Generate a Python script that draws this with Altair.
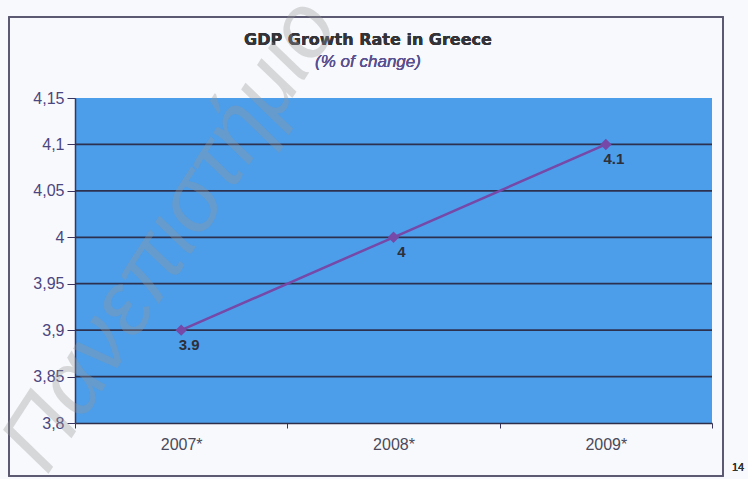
import altair as alt
import pandas as pd

years = ["2007*", "2008*", "2009*"]
growth = [3.9, 4.0, 4.1]
point_labels = ["3.9", "4", "4.1"]
y_ticks = [3.8, 3.85, 3.9, 3.95, 4.0, 4.05, 4.1, 4.15]
grid_values = [3.85, 3.9, 3.95, 4.0, 4.05, 4.1]
title_text = "GDP Growth Rate in Greece"
subtitle_text = "(% of change)"

df = pd.DataFrame({"year": years, "growth": growth, "label": point_labels})
grid_df = pd.DataFrame({"growth": grid_values})

W, H = 637, 325

x_enc = alt.X(
    "year:N",
    sort=years,
    title=None,
    scale=alt.Scale(paddingInner=0, paddingOuter=0),
    axis=alt.Axis(
        labelAngle=0,
        tickBand="extent",
        tickSize=5,
        tickColor="#3a3560",
        domainColor="#2e2f4a",
        domainWidth=1.5,
        labelFont="Liberation Sans Narrow, Liberation Sans",
        labelFontSize=16,
        labelColor="#4a4a5a",
        labelPadding=8,
        grid=False,
    ),
)
y_scale = alt.Scale(domain=[3.8, 4.15], nice=False, zero=False)
y_axis = alt.Axis(
    values=y_ticks,
    labelExpr="replace(toString(datum.value), '.', ',')",
    grid=False,
    tickSize=8,
    tickColor="#3a3560",
    domainColor="#3a3560",
    domainWidth=1.5,
    labelFont="Liberation Sans",
    labelFontSize=16,
    labelColor="#4b4680",
    labelPadding=3,
)
y_enc = alt.Y("growth:Q", title=None, scale=y_scale, axis=y_axis)

grid = alt.Chart(grid_df).mark_rule(color="#2c3150", strokeWidth=1.8).encode(y=y_enc)

line = alt.Chart(df).mark_line(color="#7648a8", strokeWidth=2.5).encode(x=x_enc, y=y_enc)
pts = alt.Chart(df).mark_point(
    shape="diamond", filled=True, color="#7648a8", size=130, opacity=1
).encode(x=x_enc, y=y_enc)
txt = alt.Chart(df).mark_text(
    font="Liberation Sans", fontWeight="bold", fontSize=15, color="#2f2f3a",
    align="center", baseline="top", dx=8, dy=8
).encode(x=x_enc, y=y_enc, text="label:N")

border = alt.Chart(df).mark_rect(
    fillOpacity=0, stroke="#5a5870", strokeWidth=1.5
).encode(x=alt.value(-66), x2=alt.value(648), y=alt.value(-81), y2=alt.value(378))

title_mark = alt.Chart(df).mark_text(
    text=title_text, font="DejaVu Sans", fontSize=16, fontWeight="bold",
    color="#333338", align="center", baseline="middle"
).encode(x=alt.value(293), y=alt.value(-58))

subtitle_mark = alt.Chart(df).mark_text(
    text=subtitle_text, font="Liberation Sans", fontSize=17, fontStyle="italic",
    color="#5a5090", align="center", baseline="middle"
).encode(x=alt.value(293), y=alt.value(-36))

page_num = alt.Chart(df).mark_text(
    text="14", font="Liberation Sans", fontSize=11, color="#333333", align="center", baseline="middle"
).encode(x=alt.value(663), y=alt.value(370))

watermark = alt.Chart(df).mark_text(
    text="Πανεπιστήμιο", font="Liberation Sans", fontStyle="italic", fontSize=90,
    color="#9a9a9a", opacity=0.13, angle=303, align="left", baseline="alphabetic"
).encode(x=alt.value(-28), y=alt.value(378))

chart = alt.layer(
    grid, line, pts, txt, border, title_mark, subtitle_mark, page_num, watermark
).properties(
    width=W,
    height=H,
    autosize=alt.AutoSizeParams(type="none"),
    padding={"left": 75, "top": 98, "right": 36, "bottom": 56},
    background="#f8f9fc",
).configure_view(fill="#4c9eea", stroke=None)

chart.save("out.html", embed_options={"renderer": "svg", "actions": False})
